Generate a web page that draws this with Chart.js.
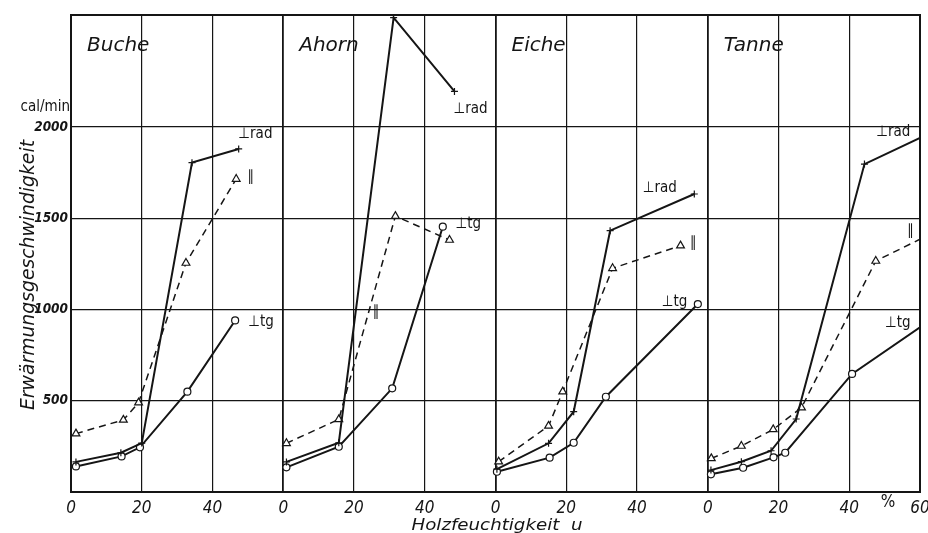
<!DOCTYPE html>
<html>
<head>
<meta charset="utf-8">
<script src="https://cdn.jsdelivr.net/npm/chart.js@4"></script>
<style>
  body { margin: 0; background: #fff; }
</style>
</head>
<body>
<canvas id="myChart" width="928" height="533"></canvas>
<script>
const woods = ["Buche", "Ahorn", "Eiche", "Tanne"];
const panelSpan = 60;
const yTicks = [0, 500, 1000, 1500, 2000];

// Holzfeuchtigkeit u (%) -> Erwärmungsgeschwindigkeit (cal/min)
const bucheRadU = [1.4, 14.1, 20.0, 34.2, 47.4];
const bucheRadV = [165, 215, 268, 1805, 1880];
const bucheParU = [1.4, 14.8, 19.1, 32.5, 46.7];
const bucheParV = [320, 395, 490, 1255, 1715];
const bucheTgU = [1.4, 14.3, 19.5, 32.9, 46.4];
const bucheTgV = [140, 195, 245, 550, 940];

const ahornRadU = [0.9, 15.7, 31.2, 48.4];
const ahornRadV = [165, 270, 2600, 2195];
const ahornParU = [0.9, 15.7, 31.7, 47.0];
const ahornParV = [267, 398, 1512, 1381];
const ahornTgU = [0.9, 15.7, 30.8, 45.1];
const ahornTgV = [135, 248, 568, 1454];

const eicheRadU = [0.4, 15.0, 22.1, 32.4, 56.2];
const eicheRadV = [125, 267, 440, 1432, 1633];
const eicheParU = [0.9, 15.0, 19.0, 33.1, 52.3];
const eicheParV = [166, 362, 550, 1226, 1350];
const eicheTgU = [0.4, 15.3, 22.1, 31.2, 57.2];
const eicheTgV = [111, 188, 270, 522, 1030];

const tanneRadU = [0.9, 9.5, 17.9, 25.0, 44.3, 60];
const tanneRadV = [120, 166, 226, 400, 1797, 1940];
const tanneParU = [1.0, 9.5, 18.5, 26.5, 47.5, 60];
const tanneParV = [184, 252, 343, 462, 1266, 1385];
const tanneTgU = [0.9, 10.0, 18.6, 21.9, 40.8, 60];
const tanneTgV = [97, 133, 190, 215, 647, 902];

// curve labels: text, panel, u, value
const noteText = ["⊥rad", "∥", "⊥tg", "⊥rad", "⊥tg", "∥", "⊥rad", "∥", "⊥tg", "⊥rad", "∥", "⊥tg"];
const notePanel = [0, 0, 0, 1, 1, 1, 2, 2, 2, 3, 3, 3];
const noteU = [47.3, 49.8, 50.1, 48.1, 48.7, 25.2, 41.6, 54.9, 47.0, 47.6, 56.3, 50.1];
const noteV = [1962, 1723, 932, 2101, 1466, 986, 1668, 1364, 1038, 1970, 1430, 923];

const series = [
    [0, "rad", bucheRadU, bucheRadV], [0, "par", bucheParU, bucheParV], [0, "tg", bucheTgU, bucheTgV],
    [1, "rad", ahornRadU, ahornRadV], [1, "par", ahornParU, ahornParV], [1, "tg", ahornTgU, ahornTgV],
    [2, "rad", eicheRadU, eicheRadV], [2, "par", eicheParU, eicheParV], [2, "tg", eicheTgU, eicheTgV],
    [3, "rad", tanneRadU, tanneRadV], [3, "par", tanneParU, tanneParV], [3, "tg", tanneTgU, tanneTgV]
];

const ink = "#151515";
const styles = {
    rad: { borderWidth: 2, borderDash: [], pointStyle: "cross", pointRadius: 3.5 },
    par: { borderWidth: 1.5, borderDash: [7, 5], pointStyle: "triangle", pointRadius: 4.5 },
    tg: { borderWidth: 2, borderDash: [], pointStyle: "circle", pointRadius: 3.5 }
};

const datasets = series.map(([panel, kind, u, v]) => {
    const st = styles[kind];
    return {
        label: woods[panel] + " " + kind,
        data: u.map((x, i) => ({ x: panel * panelSpan + x, y: v[i] })),
        borderColor: ink,
        borderWidth: st.borderWidth,
        borderDash: st.borderDash,
        pointStyle: st.pointStyle,
        pointRadius: ctx => (ctx.raw && ctx.raw.x >= woods.length * panelSpan) ? 0 : st.pointRadius,
        pointBorderWidth: 1.2,
        pointBorderColor: ink,
        pointBackgroundColor: "#fff",
        tension: 0
    };
});

const fitText = (ctx, text, x, y, width, font, rotate) => {
    ctx.save();
    ctx.font = font;
    const w = ctx.measureText(text).width;
    ctx.translate(x, y);
    if (rotate) ctx.rotate(-Math.PI / 2);
    ctx.scale(width / w, 1);
    ctx.textAlign = "center";
    ctx.textBaseline = "alphabetic";
    ctx.fillText(text, 0, 0);
    ctx.restore();
};

const decorations = {
    id: "decorations",
    afterDatasetsDraw(chart) {
        const { ctx, chartArea, scales } = chart;
        ctx.save();
        ctx.strokeStyle = ink;
        ctx.fillStyle = ink;
        ctx.lineWidth = 2;
        ctx.strokeRect(chartArea.left, chartArea.top, chartArea.right - chartArea.left, chartArea.bottom - chartArea.top);

        // panel names
        ctx.font = 'italic 20px "DejaVu Sans"';
        ctx.textAlign = "left";
        ctx.textBaseline = "alphabetic";
        woods.forEach((name, i) => {
            ctx.fillText(name, scales.x.getPixelForValue(i * panelSpan) + 16, 51);
        });

        // curve labels
        ctx.font = '15px "DejaVu Sans Condensed"';
        ctx.textBaseline = "middle";
        noteText.forEach((t, i) => {
            ctx.fillText(t, scales.x.getPixelForValue(notePanel[i] * panelSpan + noteU[i]), scales.y.getPixelForValue(noteV[i]));
        });

        // unit above the y ticks
        ctx.textAlign = "right";
        ctx.fillText("cal/min", 70, 107);

        ctx.textAlign = "center";
        ctx.font = '17px "DejaVu Sans Condensed"';
        ctx.fillText("%", 888, 503);

        fitText(ctx, "Holzfeuchtigkeit  u", 497, 530, 171, 'italic 15px "DejaVu Sans Condensed"', false);
        fitText(ctx, "Erwärmungsgeschwindigkeit", 34, 275, 270, 'italic 19px "DejaVu Sans Condensed"', true);
        ctx.restore();
    }
};

new Chart(document.getElementById("myChart").getContext("2d"), {
    type: "line",
    data: { datasets },
    plugins: [decorations],
    options: {
        responsive: false,
        animation: false,
        devicePixelRatio: 1,
        layout: { padding: { top: 15, right: 8, left: 0, bottom: 0 } },
        plugins: { legend: { display: false }, tooltip: { enabled: false } },
        scales: {
            x: {
                type: "linear",
                min: 0,
                max: woods.length * panelSpan,
                afterFit: scale => {
                    scale.height = 41;
                    scale.paddingLeft = 0;
                    scale.paddingRight = 0;
                },
                border: { display: false },
                grid: {
                    color: ink,
                    drawTicks: false,
                    lineWidth: ctx => (ctx.tick && ctx.tick.value % panelSpan === 0) ? 1.8 : 1.2
                },
                ticks: {
                    stepSize: 20,
                    padding: 6,
                    color: ink,
                    maxRotation: 0,
                    autoSkip: false,
                    font: { family: '"DejaVu Sans Condensed"', size: 17, style: "italic" },
                    callback: v => v === woods.length * panelSpan ? "60" : String(v % panelSpan)
                }
            },
            y: {
                min: 0,
                max: 2614,
                afterFit: scale => {
                    scale.width = 71;
                    scale.paddingTop = 0;
                    scale.paddingBottom = 0;
                },
                afterBuildTicks: scale => { scale.ticks = yTicks.map(v => ({ value: v })); },
                border: { display: false },
                grid: { color: ink, lineWidth: 1.2, drawTicks: false },
                ticks: {
                    padding: 3,
                    color: ink,
                    font: { family: '"DejaVu Sans Condensed"', size: 13.5, style: "italic", weight: "bold" },
                    callback: v => v === 0 ? "" : v
                }
            }
        }
    }
});
</script>
</body>
</html>
